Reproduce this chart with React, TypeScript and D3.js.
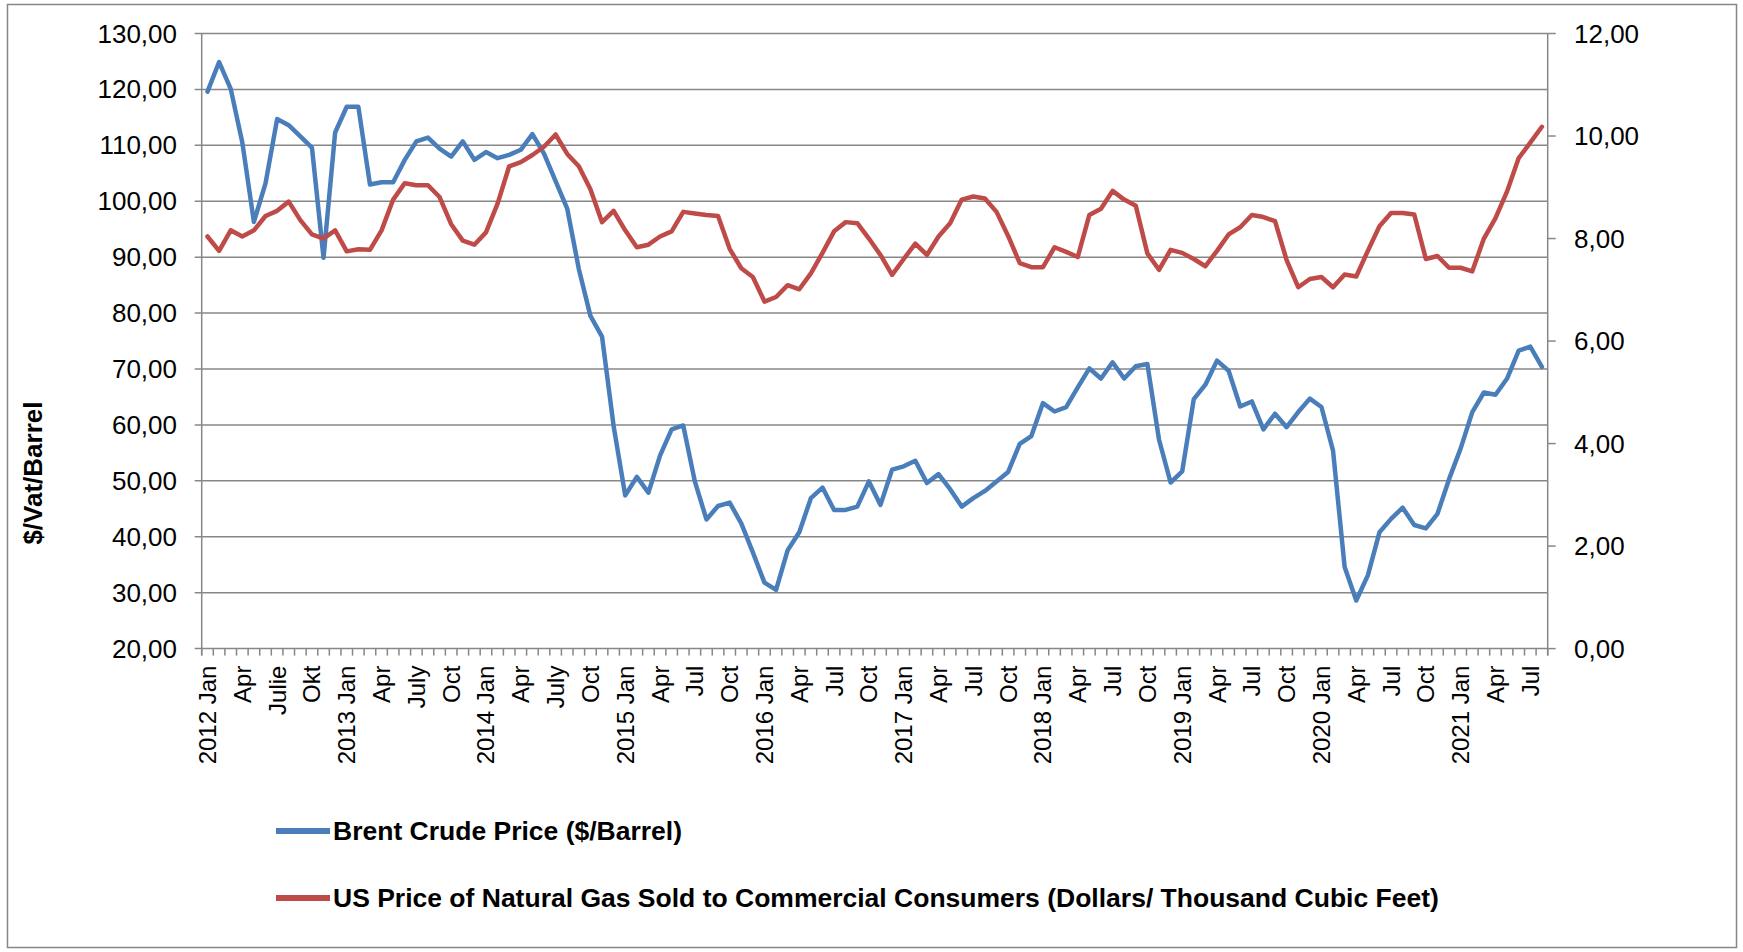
import React from "react";
import * as d3 from "d3";

const brent: number[] = [
  119.6, 124.9, 120.1, 110.5, 96.3, 103.2, 114.7, 113.6, 111.6, 109.6, 89.9, 112.3,
  116.9, 116.9, 103.0, 103.4, 103.4, 107.4, 110.7, 111.4, 109.4, 108.0, 110.7, 107.4,
  108.8, 107.7, 108.3, 109.2, 112.0, 108.5, 103.6, 98.7, 87.9, 79.5, 75.8, 59.8,
  47.4, 50.7, 47.9, 54.5, 59.2, 59.9, 49.9, 43.1, 45.5, 46.1, 42.4, 37.2,
  31.8, 30.5, 37.6, 40.8, 46.9, 48.8, 44.8, 44.8, 45.4, 49.9, 45.7, 52.0,
  52.6, 53.6, 49.6, 51.2, 48.5, 45.4, 46.9, 48.2, 49.9, 51.6, 56.6, 58.0,
  63.9, 62.4, 63.2, 66.7, 70.1, 68.3, 71.2, 68.3, 70.5, 70.9, 57.4, 49.7,
  51.7, 64.6, 67.2, 71.5, 69.7, 63.3, 64.2, 59.2, 62.0, 59.6, 62.3, 64.7,
  63.2, 55.4, 34.6, 28.6, 33.1, 40.8, 43.2, 45.2, 42.1, 41.5, 44.1, 50.3,
  55.8, 62.3, 65.8, 65.4, 68.3, 73.3, 74.0, 70.4,
];

const gas: number[] = [
  8.04, 7.76, 8.16, 8.04, 8.16, 8.44, 8.54, 8.72, 8.36, 8.08, 8.0, 8.16,
  7.75, 7.79, 7.78, 8.16, 8.76, 9.08, 9.04, 9.04, 8.81, 8.28, 7.96, 7.88,
  8.12, 8.68, 9.41, 9.49, 9.63, 9.79, 10.03, 9.65, 9.41, 8.96, 8.32, 8.54,
  8.16, 7.83, 7.88, 8.04, 8.14, 8.52, 8.49, 8.46, 8.44, 7.8, 7.42, 7.25,
  6.77, 6.86, 7.09, 7.01, 7.32, 7.72, 8.14, 8.32, 8.3, 8.0, 7.68, 7.29,
  7.6, 7.9, 7.68, 8.04, 8.3, 8.76, 8.82, 8.78, 8.52, 8.05, 7.52, 7.44,
  7.44, 7.83, 7.74, 7.64, 8.46, 8.58, 8.93, 8.76, 8.64, 7.71, 7.39, 7.78,
  7.72, 7.6, 7.46, 7.76, 8.08, 8.22, 8.46, 8.42, 8.34, 7.58, 7.05, 7.21,
  7.25, 7.05, 7.3, 7.26, 7.76, 8.24, 8.5, 8.5, 8.47, 7.6, 7.66, 7.43,
  7.43, 7.36, 8.0, 8.4, 8.92, 9.57, 9.87, 10.18,
];

// One label every third month, starting at 2012 Jan
const tickLabels: string[] = [
  "2012 Jan", "Apr", "Julie", "Okt",
  "2013 Jan", "Apr", "July", "Oct",
  "2014 Jan", "Apr", "July", "Oct",
  "2015 Jan", "Apr", "Jul", "Oct",
  "2016 Jan", "Apr", "Jul", "Oct",
  "2017 Jan", "Apr", "Jul", "Oct",
  "2018 Jan", "Apr", "Jul", "Oct",
  "2019 Jan", "Apr", "Jul", "Oct",
  "2020 Jan", "Apr", "Jul", "Oct",
  "2021 Jan", "Apr", "Jul",
];
const labelEvery = 3;

const leftTicks: number[] = [20, 30, 40, 50, 60, 70, 80, 90, 100, 110, 120, 130];
const rightTicks: number[] = [0, 2, 4, 6, 8, 10, 12];

const seriesNames: string[] = [
  "Brent Crude Price ($/Barrel)",
  "US Price of Natural Gas Sold to Commercial Consumers (Dollars/ Thousand Cubic Feet)",
];
const yTitle = "$/Vat/Barrel";

const BLUE = "#4A7EBB";
const RED = "#BE4B48";
const GRID = "#878787";
const FONT = "'Liberation Sans', Arial, Helvetica, sans-serif";

export default function App() {
  const W = 1743;
  const H = 952;
  const left = 201.7;
  const right = 1547.7;
  const top = 33.5;
  const bottom = 648.6;

  const n = brent.length;
  const idx = d3.range(n);
  const x = d3.scaleBand<number>().domain(idx).range([left, right]).padding(0);
  const cx = (i: number) => (x(i) as number) + x.bandwidth() / 2;
  const yL = d3.scaleLinear().domain([20, 130]).range([bottom, top]);
  const yR = d3.scaleLinear().domain([0, 12]).range([bottom, top]);

  const fmt = (v: number) => v.toFixed(2).replace(".", ",");

  const lineB = d3.line<number>().x((_, i) => cx(i)).y((d) => yL(d));
  const lineG = d3.line<number>().x((_, i) => cx(i)).y((d) => yR(d));

  const boundaries = d3.range(n + 1).map((i) => left + i * x.bandwidth());

  return (
    <svg
      width={W}
      height={H}
      style={{ position: "absolute", left: 0, top: 0, background: "#fff" }}
      fontFamily={FONT}
    >
      <rect x={0} y={0} width={W} height={H} fill="#fff" />
      <rect x={7.5} y={4.5} width={1729} height={943} fill="none" stroke={GRID} strokeWidth={1.5} />

      {/* gridlines */}
      {leftTicks.map((t) => (
        <line key={"g" + t} x1={left - 7} x2={right} y1={yL(t)} y2={yL(t)} stroke={GRID} strokeWidth={1.5} />
      ))}
      {/* left axis */}
      <line x1={left} x2={left} y1={top} y2={bottom + 7} stroke={GRID} strokeWidth={1.5} />
      {leftTicks.map((t) => (
        <text key={"lt" + t} x={177} y={yL(t)} textAnchor="end" dominantBaseline="central" fontSize={26} fill="#000">
          {fmt(t)}
        </text>
      ))}
      {/* right axis */}
      <line x1={right} x2={right} y1={top} y2={bottom + 7} stroke={GRID} strokeWidth={1.5} />
      {rightTicks.map((t) => (
        <g key={"rt" + t}>
          <line x1={right} x2={right + 8} y1={yR(t)} y2={yR(t)} stroke={GRID} strokeWidth={1.5} />
          <text x={1574} y={yR(t)} textAnchor="start" dominantBaseline="central" fontSize={26} fill="#000">
            {fmt(t)}
          </text>
        </g>
      ))}
      {/* x axis ticks */}
      {boundaries.map((b, i) => (
        <line key={"xt" + i} x1={b} x2={b} y1={bottom} y2={bottom + 7} stroke={GRID} strokeWidth={1.5} />
      ))}
      {tickLabels.map((lab, k) => {
        const i = k * labelEvery;
        const px = cx(i);
        const py = bottom + 17;
        return (
          <text
            key={"xl" + k}
            transform={`translate(${px},${py}) rotate(-90)`}
            textAnchor="end"
            dominantBaseline="central"
            fontSize={24}
            fill="#000"
          >
            {lab}
          </text>
        );
      })}

      {/* y title */}
      <text
        transform={`translate(33,${(top + bottom) / 2 + 132}) rotate(-90)`}
        textAnchor="middle"
        dominantBaseline="central"
        fontSize={26}
        fontWeight="bold"
        fill="#000"
      >
        {yTitle}
      </text>

      {/* series */}
      <path d={lineB(brent) || ""} fill="none" stroke={BLUE} strokeWidth={4.5} strokeLinejoin="round" strokeLinecap="round" />
      <path d={lineG(gas) || ""} fill="none" stroke={RED} strokeWidth={4.5} strokeLinejoin="round" strokeLinecap="round" />

      {/* legend */}
      {seriesNames.map((name, k) => {
        const ly = k === 0 ? 831 : 898;
        return (
          <g key={"lg" + k}>
            <line x1={276} x2={330} y1={ly} y2={ly} stroke={k === 0 ? BLUE : RED} strokeWidth={6} />
            <text x={333} y={ly} dominantBaseline="central" fontSize={26.5} fontWeight="bold" fill="#000">
              {name}
            </text>
          </g>
        );
      })}
    </svg>
  );
}
